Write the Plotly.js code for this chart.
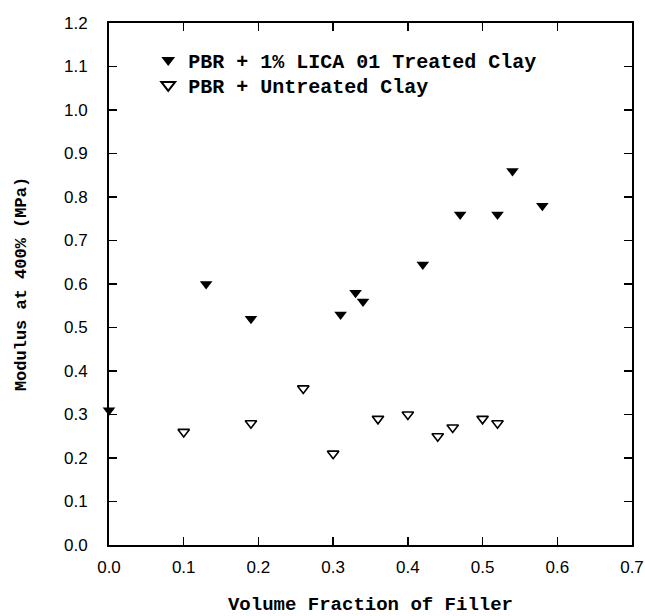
<!DOCTYPE html>
<html>
<head>
<meta charset="utf-8">
<script src="https://cdn.plot.ly/plotly-3.0.1.min.js"></script>
<style>html,body{margin:0;padding:0;background:#fff;}#chart{width:645px;height:616px;}</style>
</head>
<body>
<div id="chart"></div>
<script>
// Data
const treatedName = "PBR + 1% LICA 01 Treated Clay";
const treatedX = [0.00, 0.13, 0.19, 0.31, 0.33, 0.34, 0.42, 0.47, 0.52, 0.54, 0.58];
const treatedY = [0.31, 0.60, 0.52, 0.53, 0.58, 0.56, 0.645, 0.76, 0.76, 0.86, 0.78];

const untreatedName = "PBR + Untreated Clay";
const untreatedX = [0.10, 0.19, 0.26, 0.30, 0.36, 0.40, 0.44, 0.46, 0.50, 0.52];
const untreatedY = [0.26, 0.28, 0.36, 0.21, 0.29, 0.30, 0.25, 0.27, 0.29, 0.28];

const xTickVals = [0, 0.1, 0.2, 0.3, 0.4, 0.5, 0.6, 0.7];
const xTickText = ["0.0", "0.1", "0.2", "0.3", "0.4", "0.5", "0.6", "0.7"];
const yTickVals = [0, 0.1, 0.2, 0.3, 0.4, 0.5, 0.6, 0.7, 0.8, 0.9, 1.0, 1.1, 1.2];
const yTickText = ["0.0", "0.1", "0.2", "0.3", "0.4", "0.5", "0.6", "0.7", "0.8", "0.9", "1.0", "1.1", "1.2"];

const xTitle = "Volume Fraction of Filler";
const yTitle = "Modulus at 400% (MPa)";

const mono = "Liberation Mono, Courier New, monospace";
const sans = "Liberation Sans, Arial, sans-serif";

const traces = [
  {
    type: "scatter", mode: "markers", name: treatedName, legend: "legend",
    x: treatedX, y: treatedY, cliponaxis: false,
    marker: {symbol: "triangle-down", size: 11, color: "#000", line: {width: 0}}
  },
  {
    type: "scatter", mode: "markers", name: untreatedName, legend: "legend2",
    x: untreatedX, y: untreatedY, cliponaxis: false,
    marker: {symbol: "triangle-down-open", size: 10, color: "#000", line: {width: 1.6, color: "#000"}}
  }
];

const axisCommon = {
  showgrid: false, zeroline: false, showline: true, linecolor: "#000", linewidth: 2,
  mirror: "ticks", ticks: "inside", ticklen: 8, tickwidth: 1.5, tickcolor: "#000",
  tickfont: {family: sans, size: 17, color: "#000"}
};

const legendCommon = {
  xanchor: "left", yanchor: "top",
  bgcolor: "rgba(0,0,0,0)", borderwidth: 0,
  font: {family: mono, size: 20, color: "#000", weight: "bold"},
  itemsizing: "constant"
};

const layout = {
  width: 645, height: 616,
  margin: {l: 108.5, r: 12.5, t: 22.5, b: 70.5},
  paper_bgcolor: "#fff", plot_bgcolor: "#fff",
  showlegend: true,
  legend: Object.assign({}, legendCommon, {x: 0.075, y: 0.9665}),
  legend2: Object.assign({}, legendCommon, {x: 0.075, y: 0.9187}),
  xaxis: Object.assign({}, axisCommon, {
    range: [0, 0.7], tickvals: xTickVals, ticktext: xTickText,
    ticklabelstandoff: 6,
    title: {text: xTitle, font: {family: mono, size: 19, color: "#000", weight: "bold"}, standoff: 33}
  }),
  yaxis: Object.assign({}, axisCommon, {
    range: [0, 1.2], tickvals: yTickVals, ticktext: yTickText,
    ticklabelstandoff: 16,
    title: {text: yTitle, font: {family: mono, size: 17, color: "#000", weight: "bold"}, standoff: 33}
  })
};

Plotly.newPlot("chart", traces, layout, {displayModeBar: false, staticPlot: true});
</script>
</body>
</html>
